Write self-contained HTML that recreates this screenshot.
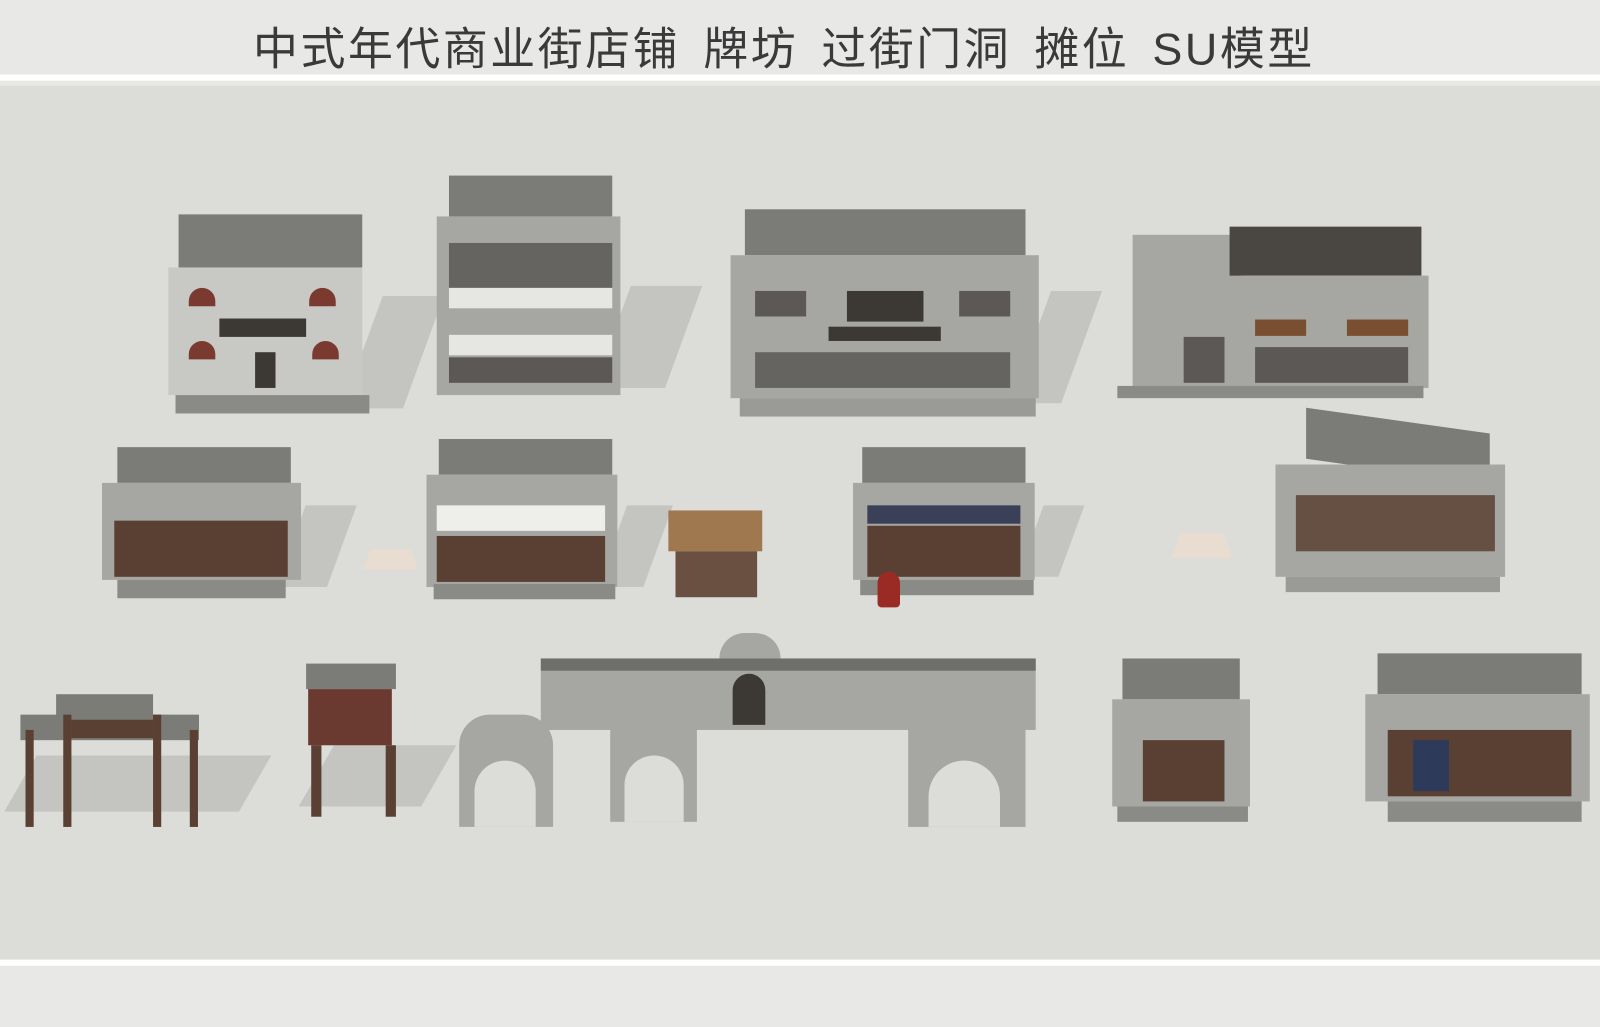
<!DOCTYPE html>
<html><head><meta charset="utf-8">
<style>
html,body{margin:0;padding:0;width:1600px;height:1027px;overflow:hidden;background:#e8e8e6;}
#w{position:absolute;left:0;top:0;width:1568px;height:1006px;transform:scale(1.0204,1.0209);transform-origin:0 0;background:#e8e8e6;}
.a{position:absolute;}
.title{position:absolute;left:248px;top:12px;white-space:nowrap;font:44px "Liberation Sans","Noto Sans CJK SC",sans-serif;letter-spacing:2.5px;word-spacing:8px;color:#3a3a3a;}
.roof{background:#7b7b78;}
.fac{background:#a6a6a2;}
.dark{background:#3c3834;}
.wood{background:#5a4032;}
.sh{background:#c4c4c0;}
</style></head><body><div id="w">
<div class="title">中式年代商业街店铺 牌坊 过街门洞 摊位 SU模型</div>
<div class="a" style="left:0;top:73px;width:1568px;height:6px;background:#fff"></div>
<div class="a" style="left:0;top:84px;width:1568px;height:856px;background:#dcdcd8"></div>
<div class="a" style="left:0;top:940px;width:1568px;height:6px;background:#fff"></div>

<!-- shadows -->
<div class="a sh" style="left:355px;top:290px;width:60px;height:110px;transform:skewX(-20deg)"></div>
<div class="a sh" style="left:600px;top:280px;width:70px;height:100px;transform:skewX(-20deg)"></div>
<div class="a sh" style="left:1010px;top:285px;width:50px;height:110px;transform:skewX(-20deg)"></div>
<div class="a sh" style="left:285px;top:495px;width:50px;height:80px;transform:skewX(-20deg)"></div>
<div class="a sh" style="left:600px;top:495px;width:45px;height:80px;transform:skewX(-20deg)"></div>
<div class="a sh" style="left:1010px;top:495px;width:40px;height:70px;transform:skewX(-20deg)"></div>
<div class="a sh" style="left:20px;top:740px;width:230px;height:55px;transform:skewX(-30deg)"></div>
<div class="a sh" style="left:310px;top:730px;width:120px;height:60px;transform:skewX(-30deg)"></div>

<!-- row 1 -->
<div class="a roof" style="left:175px;top:210px;width:180px;height:52px"></div>
<div class="a" style="left:165px;top:262px;width:190px;height:125px;background:#c8c8c4"></div>
<div class="a dark" style="left:215px;top:312px;width:85px;height:18px"></div>
<div class="a" style="left:185px;top:282px;width:26px;height:18px;background:#7a3a30;border-radius:13px 13px 0 0"></div>
<div class="a" style="left:303px;top:282px;width:26px;height:18px;background:#7a3a30;border-radius:13px 13px 0 0"></div>
<div class="a" style="left:185px;top:334px;width:26px;height:18px;background:#7a3a30;border-radius:13px 13px 0 0"></div>
<div class="a" style="left:306px;top:334px;width:26px;height:18px;background:#7a3a30;border-radius:13px 13px 0 0"></div>
<div class="a dark" style="left:250px;top:345px;width:20px;height:35px"></div>
<div class="a" style="left:172px;top:387px;width:190px;height:18px;background:#8a8a86"></div>

<div class="a roof" style="left:440px;top:172px;width:160px;height:40px"></div>
<div class="a fac" style="left:428px;top:212px;width:180px;height:175px"></div>
<div class="a dark" style="left:440px;top:238px;width:160px;height:44px;opacity:.6"></div>
<div class="a" style="left:440px;top:282px;width:160px;height:20px;background:#e6e6e2"></div>
<div class="a" style="left:440px;top:328px;width:160px;height:20px;background:#e6e6e2"></div>
<div class="a dark" style="left:440px;top:350px;width:160px;height:25px;opacity:.7"></div>

<div class="a roof" style="left:730px;top:205px;width:275px;height:45px"></div>
<div class="a fac" style="left:716px;top:250px;width:302px;height:140px"></div>
<div class="a dark" style="left:740px;top:285px;width:50px;height:25px;opacity:.7"></div>
<div class="a dark" style="left:940px;top:285px;width:50px;height:25px;opacity:.7"></div>
<div class="a dark" style="left:830px;top:285px;width:75px;height:30px"></div>
<div class="a dark" style="left:740px;top:345px;width:250px;height:35px;opacity:.6"></div>
<div class="a dark" style="left:812px;top:320px;width:110px;height:14px"></div>
<div class="a" style="left:725px;top:390px;width:290px;height:18px;background:#9a9a96"></div>

<div class="a fac" style="left:1110px;top:230px;width:110px;height:150px"></div>
<div class="a" style="left:1205px;top:222px;width:188px;height:48px;background:#4a4642"></div>
<div class="a fac" style="left:1215px;top:270px;width:185px;height:110px"></div>
<div class="a" style="left:1230px;top:313px;width:50px;height:16px;background:#7a4e30"></div>
<div class="a" style="left:1320px;top:313px;width:60px;height:16px;background:#7a4e30"></div>
<div class="a dark" style="left:1230px;top:340px;width:150px;height:35px;opacity:.7"></div>
<div class="a dark" style="left:1160px;top:330px;width:40px;height:45px;opacity:.7"></div>
<div class="a" style="left:1095px;top:378px;width:300px;height:12px;background:#8a8a86"></div>

<!-- row 2 -->
<div class="a roof" style="left:115px;top:438px;width:170px;height:35px"></div>
<div class="a fac" style="left:100px;top:473px;width:195px;height:95px"></div>
<div class="a wood" style="left:112px;top:510px;width:170px;height:55px"></div>
<div class="a" style="left:115px;top:568px;width:165px;height:18px;background:#8a8a86"></div>

<div class="a roof" style="left:430px;top:430px;width:170px;height:35px"></div>
<div class="a fac" style="left:418px;top:465px;width:187px;height:110px"></div>
<div class="a" style="left:428px;top:495px;width:165px;height:25px;background:#eeeeea"></div>
<div class="a wood" style="left:428px;top:525px;width:165px;height:45px"></div>
<div class="a" style="left:425px;top:572px;width:178px;height:15px;background:#8a8a86"></div>

<div class="a" style="left:655px;top:500px;width:92px;height:40px;background:#a07850"></div>
<div class="a" style="left:662px;top:540px;width:80px;height:45px;background:#6a5040"></div>

<div class="a roof" style="left:845px;top:438px;width:160px;height:35px"></div>
<div class="a fac" style="left:836px;top:473px;width:178px;height:95px"></div>
<div class="a dark" style="left:850px;top:495px;width:150px;height:18px;background:#3a4058"></div>
<div class="a wood" style="left:850px;top:515px;width:150px;height:50px"></div>
<div class="a" style="left:843px;top:568px;width:170px;height:15px;background:#8a8a86"></div>
<div class="a" style="left:860px;top:560px;width:22px;height:35px;background:#9a2a24;border-radius:11px 11px 4px 4px"></div>

<div class="a roof" style="left:1280px;top:412px;width:180px;height:50px;transform:skewY(8deg)"></div>
<div class="a fac" style="left:1250px;top:455px;width:225px;height:110px"></div>
<div class="a wood" style="left:1270px;top:485px;width:195px;height:55px;opacity:.85"></div>
<div class="a" style="left:1260px;top:565px;width:210px;height:15px;background:#9a9a96"></div>

<div class="a" style="left:355px;top:538px;width:55px;height:20px;background:#e8ddd0;clip-path:polygon(15% 0,85% 0,100% 100%,0 100%)"></div>
<div class="a" style="left:1148px;top:522px;width:60px;height:25px;background:#e8ddd0;clip-path:polygon(15% 0,85% 0,100% 100%,0 100%)"></div>

<!-- row 3 gates -->
<div class="a roof" style="left:20px;top:700px;width:175px;height:25px"></div>
<div class="a roof" style="left:55px;top:680px;width:95px;height:25px"></div>
<div class="a wood" style="left:25px;top:715px;width:8px;height:95px"></div>
<div class="a wood" style="left:62px;top:700px;width:8px;height:110px"></div>
<div class="a wood" style="left:150px;top:700px;width:8px;height:110px"></div>
<div class="a wood" style="left:186px;top:715px;width:8px;height:95px"></div>
<div class="a wood" style="left:70px;top:705px;width:80px;height:18px"></div>

<div class="a roof" style="left:300px;top:650px;width:88px;height:25px"></div>
<div class="a" style="left:302px;top:675px;width:82px;height:55px;background:#6a3a30"></div>
<div class="a wood" style="left:305px;top:730px;width:10px;height:70px"></div>
<div class="a wood" style="left:378px;top:730px;width:10px;height:70px"></div>

<div class="a fac" style="left:530px;top:645px;width:485px;height:70px"></div>
<div class="a fac" style="left:705px;top:620px;width:60px;height:30px;border-radius:25px 25px 0 0"></div>
<div class="a dark" style="left:718px;top:660px;width:32px;height:50px;border-radius:16px 16px 0 0"></div>
<div class="a" style="left:530px;top:645px;width:485px;height:12px;background:#6e6e6a"></div>

<div class="a fac" style="left:450px;top:700px;width:92px;height:110px;border-radius:30px 30px 0 0"></div>
<div class="a" style="left:465px;top:745px;width:60px;height:65px;background:#dcdcd8;border-radius:30px 30px 0 0"></div>
<div class="a fac" style="left:598px;top:690px;width:85px;height:115px"></div>
<div class="a" style="left:612px;top:740px;width:58px;height:65px;background:#dcdcd8;border-radius:29px 29px 0 0"></div>
<div class="a fac" style="left:890px;top:710px;width:115px;height:100px"></div>
<div class="a" style="left:910px;top:745px;width:70px;height:65px;background:#dcdcd8;border-radius:35px 35px 0 0"></div>

<div class="a roof" style="left:1100px;top:645px;width:115px;height:40px"></div>
<div class="a fac" style="left:1090px;top:685px;width:135px;height:105px"></div>
<div class="a wood" style="left:1120px;top:725px;width:80px;height:60px"></div>
<div class="a" style="left:1095px;top:790px;width:128px;height:15px;background:#8a8a86"></div>

<div class="a roof" style="left:1350px;top:640px;width:200px;height:40px"></div>
<div class="a fac" style="left:1338px;top:680px;width:220px;height:105px"></div>
<div class="a wood" style="left:1360px;top:715px;width:180px;height:65px"></div>
<div class="a dark" style="left:1385px;top:725px;width:35px;height:50px;background:#2e3a5a"></div>
<div class="a" style="left:1360px;top:785px;width:190px;height:20px;background:#8a8a86"></div>
</div></body></html>
